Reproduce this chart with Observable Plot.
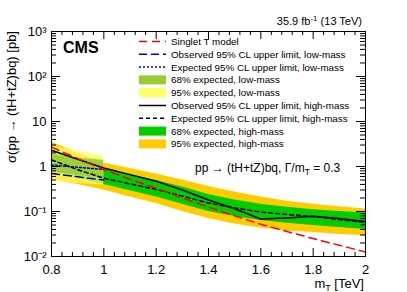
<!DOCTYPE html>
<html><head><meta charset="utf-8">
<script src="https://cdn.jsdelivr.net/npm/d3@7"></script>
<script src="https://cdn.jsdelivr.net/npm/@observablehq/plot@0.6"></script>
<style>
body{margin:0;background:#fff;}
#chart{width:407px;height:292px;}
</style></head><body><div id="chart"></div>
<script>
// ---- data ----
const masses   = [0.8, 0.9, 1.0, 1.1, 1.2, 1.3, 1.4, 1.5, 1.6, 1.7, 1.8, 1.9, 2.0];
const singletT = [2.7, 1.5, 0.86, 0.52, 0.33, 0.20, 0.125, 0.080, 0.052, 0.036, 0.025, 0.0178, 0.0126];
const obsHigh  = [2.3, 1.45, 0.93, 0.66, 0.47, 0.30, 0.18, 0.115, 0.068, 0.072, 0.078, 0.070, 0.060];
const expHigh  = [1.40, 0.85, 0.55, 0.41, 0.31, 0.22, 0.155, 0.12, 0.097, 0.086, 0.077, 0.066, 0.057];
const high68Lo = [0.80, 0.55, 0.40, 0.29, 0.21, 0.145, 0.10, 0.077, 0.063, 0.055, 0.049, 0.044, 0.040];
const high68Hi = [2.3, 1.4, 0.90, 0.66, 0.49, 0.35, 0.24, 0.18, 0.145, 0.125, 0.11, 0.10, 0.093];
const high95Lo = [0.52, 0.40, 0.30, 0.21, 0.15, 0.10, 0.07, 0.053, 0.043, 0.037, 0.034, 0.031, 0.029];
const high95Hi = [3.5, 2.0, 1.2, 0.90, 0.68, 0.50, 0.36, 0.27, 0.21, 0.17, 0.145, 0.128, 0.113];

const lowMasses = [0.8, 0.9, 1.0];
const obsLow    = [0.70, 0.59, 0.50];
const expLow    = [1.08, 0.96, 0.86];
const low68Lo   = [0.76, 0.64, 0.54];
const low68Hi   = [1.80, 1.55, 1.38];
const low95Lo   = [0.46, 0.42, 0.39];
const low95Hi   = [2.9, 2.2, 1.73];

const xMajor  = [0.8, 1.0, 1.2, 1.4, 1.6, 1.8, 2.0];
const xLabels = ["0.8", "1", "1.2", "1.4", "1.6", "1.8", "2"];
const yMajor  = [0.01, 0.1, 1, 10, 100, 1000];
const yLabels = ["10\u207B\u00B2", "10\u207B\u00B9", "1", "10", "10\u00B2", "10\u00B3"];

// ---- tables ----
const high = masses.map((m, i) => ({m, sT: singletT[i], obs: obsHigh[i], exp: expHigh[i],
  g1: high68Lo[i], g2: high68Hi[i], o1: high95Lo[i], o2: high95Hi[i]}));
const low = lowMasses.map((m, i) => ({m, obs: obsLow[i], exp: expLow[i],
  g1: low68Lo[i], g2: low68Hi[i], y1: low95Lo[i], y2: low95Hi[i]}));

const xMinor = d3.range(0, 31).map(i => 0.8 + i * 0.04).filter(v => !xMajor.some(t => Math.abs(t - v) < 1e-9));
const yMinor = [];
for (const d of yMajor.slice(0, -1)) for (let k = 2; k <= 9; k++) yMinor.push(d * k);

const W = 407, H = 292, mL = 51, mR = 42, mT = 31, mB = 36;
const pH = H - mT - mB, pW = W - mL - mR;

const colors = {orange: "#ffcc00", green: "#00cc00", yellow: "#ffff66", ygreen: "#99cc33", blue: "#0000cc", red: "#ff0000"};

const plot = Plot.plot({
  width: W, height: H,
  marginLeft: mL, marginRight: mR, marginTop: mT, marginBottom: mB,
  style: {fontFamily: "'Liberation Sans', Arial, sans-serif", fontSize: "13px", color: "#000", background: "#fff"},
  x: {type: "linear", domain: [0.8, 2.0]},
  y: {type: "log", domain: [0.01, 1000]},
  marks: [
    Plot.areaY(high, {x: "m", y1: "o1", y2: "o2", fill: colors.orange}),
    Plot.areaY(high, {x: "m", y1: "g1", y2: "g2", fill: colors.green}),
    Plot.areaY(low, {x: "m", y1: "y1", y2: "y2", fill: colors.yellow, fillOpacity: 0.7}),
    Plot.areaY(low, {x: "m", y1: "g1", y2: "g2", fill: colors.ygreen, fillOpacity: 0.9}),
    Plot.lineY(high, {x: "m", y: "exp", stroke: "#000", strokeWidth: 1.5, strokeDasharray: "4,3"}),
    Plot.lineY(high, {x: "m", y: "obs", stroke: "#000", strokeWidth: 1.5}),
    Plot.lineY(low, {x: "m", y: "exp", stroke: colors.blue, strokeWidth: 1.5, strokeDasharray: "2,2"}),
    Plot.lineY(low, {x: "m", y: "obs", stroke: colors.blue, strokeWidth: 1.5, strokeDasharray: "8,4"}),
    Plot.lineY(high, {x: "m", y: "sT", stroke: colors.red, strokeWidth: 1.5, strokeDasharray: "8,5"}),
    // inward ticks on all four sides
    Plot.ruleX(xMajor, {insetTop: pH - 8, stroke: "#000"}),
    Plot.ruleX(xMinor, {insetTop: pH - 4, stroke: "#000"}),
    Plot.ruleX(xMajor, {insetBottom: pH - 8, stroke: "#000"}),
    Plot.ruleX(xMinor, {insetBottom: pH - 4, stroke: "#000"}),
    Plot.ruleY(yMajor, {insetRight: pW - 9, stroke: "#000"}),
    Plot.ruleY(yMinor, {insetRight: pW - 5, stroke: "#000"}),
    Plot.ruleY(yMajor, {insetLeft: pW - 9, stroke: "#000"}),
    Plot.ruleY(yMinor, {insetLeft: pW - 5, stroke: "#000"}),
    Plot.axisX({ticks: xMajor, tickSize: 0, tickPadding: 8, label: null,
      tickFormat: d => xLabels[xMajor.findIndex(t => Math.abs(t - d) < 1e-9)]}),
    Plot.axisY({ticks: yMajor, tickSize: 0, tickPadding: 5, label: null,
      tickFormat: d => yLabels[yMajor.findIndex(t => Math.abs(t / d - 1) < 1e-9)]}),
    Plot.frame({stroke: "#000"})
  ]
});
document.getElementById("chart").appendChild(plot);

// ---- annotations ----
const svg = d3.select(plot);
const ff = "'Liberation Sans', Arial, sans-serif";

svg.append("text").attr("x", 63).attr("y", 52.5).attr("font-family", ff).attr("text-anchor", "start")
  .attr("font-size", 16).attr("font-weight", "bold").text("CMS");

const lumi = svg.append("text").attr("x", 362).attr("y", 25).attr("text-anchor", "end")
  .attr("font-family", ff).attr("font-size", 11);
lumi.append("tspan").text("35.9 fb");
lumi.append("tspan").attr("font-size", 8).attr("dy", -4).text("-1");
lumi.append("tspan").attr("dy", 4).text(" (13 TeV)");

const proc = svg.append("text").attr("x", 195).attr("y", 172).attr("text-anchor", "start")
  .attr("font-family", ff).attr("font-size", 12);
proc.append("tspan").text("pp \u2192 (tH+tZ)bq, \u0393/m");
proc.append("tspan").attr("font-size", 8.5).attr("dy", 3).text("T");
proc.append("tspan").attr("dy", -3).text(" = 0.3");

const xt = svg.append("text").attr("x", 364).attr("y", 288).attr("text-anchor", "end")
  .attr("font-family", ff).attr("font-size", 13);
xt.append("tspan").text("m");
xt.append("tspan").attr("font-size", 9).attr("dy", 3).text("T");
xt.append("tspan").attr("dy", -3).text(" [TeV]");

svg.append("text").attr("transform", "translate(16,31) rotate(-90)").attr("text-anchor", "end")
  .attr("font-family", ff).attr("font-size", 13).text("\u03C3(pp \u2192 (tH+tZ)bq) [pb]");

// legend
const legend = [
  {t: "line", c: colors.red, d: "8,5", label: "Singlet T model"},
  {t: "line", c: colors.blue, d: "8,4", label: "Observed 95% CL upper limit, low-mass"},
  {t: "line", c: colors.blue, d: "2,2", label: "Expected 95% CL upper limit, low-mass"},
  {t: "box", c: colors.ygreen, label: "68% expected, low-mass"},
  {t: "box", c: colors.yellow, label: "95% expected, low-mass"},
  {t: "line", c: "#000", d: null, label: "Observed 95% CL upper limit, high-mass"},
  {t: "line", c: "#000", d: "4,3", label: "Expected 95% CL upper limit, high-mass"},
  {t: "box", c: colors.green, label: "68% expected, high-mass"},
  {t: "box", c: colors.orange, label: "95% expected, high-mass"}
];
const lg = svg.append("g");
legend.forEach((e, i) => {
  const cy = 41.5 + i * 12.8;
  if (e.t === "line") {
    const l = lg.append("line").attr("x1", 139).attr("x2", 166).attr("y1", cy).attr("y2", cy)
      .attr("stroke", e.c).attr("stroke-width", 1.5);
    if (e.d) l.attr("stroke-dasharray", e.d);
  } else {
    lg.append("rect").attr("x", 139).attr("y", cy - 4.5).attr("width", 27).attr("height", 9).attr("fill", e.c);
  }
  lg.append("text").attr("x", 171).attr("y", cy + 3.5).attr("text-anchor", "start")
    .attr("font-family", ff).attr("font-size", 9.8).attr("fill", "#000").text(e.label);
});
</script></body></html>
